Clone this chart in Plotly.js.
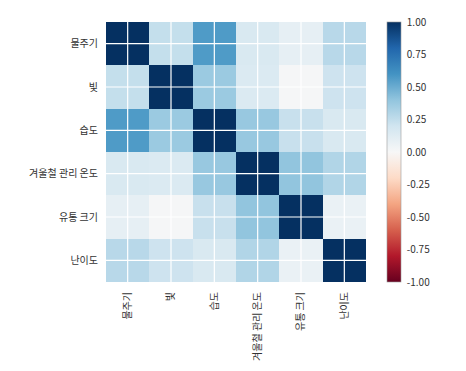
<!DOCTYPE html>
<html>
<head>
<meta charset="utf-8">
<script src="https://cdn.plot.ly/plotly-3.0.1.min.js"></script>
<style>html,body{margin:0;padding:0;background:#fff;}#chart{width:466px;height:371px;}</style>
</head>
<body>
<div id="chart"></div>
<script>
const categories = ['물주기', '빛', '습도', '겨울철 관리 온도', '유통 크기', '난이도'];
const row_물주기 = [1.00, 0.24, 0.57, 0.16, 0.09, 0.28];
const row_빛 = [0.24, 1.00, 0.37, 0.15, 0.01, 0.21];
const row_습도 = [0.57, 0.37, 1.00, 0.38, 0.23, 0.16];
const row_겨울철 = [0.16, 0.15, 0.38, 1.00, 0.40, 0.30];
const row_유통 = [0.09, 0.01, 0.23, 0.40, 1.00, 0.07];
const row_난이도 = [0.28, 0.21, 0.16, 0.30, 0.07, 1.00];
const zValues = [row_물주기, row_빛, row_습도, row_겨울철, row_유통, row_난이도];
const colorbarTicks = [-1, -0.75, -0.5, -0.25, 0, 0.25, 0.5, 0.75, 1];

const rdbu = ['#67001f','#b2182b','#d6604d','#f4a582','#fddbc7','#f7f7f7','#d1e5f0','#92c5de','#4393c3','#2166ac','#053061'];
const colorscale = rdbu.map((c, i) => [i / (rdbu.length - 1), c]);

const font = "'Noto Sans CJK KR', 'Noto Sans', sans-serif";

const shapes = [];
categories.forEach(c => {
  shapes.push({type: 'line', xref: 'x', yref: 'paper', x0: c, x1: c, y0: 0, y1: 1, line: {color: 'white', width: 1.2}, layer: 'above'});
  shapes.push({type: 'line', xref: 'paper', yref: 'y', x0: 0, x1: 1, y0: c, y1: c, line: {color: 'white', width: 1.2}, layer: 'above'});
});

const trace = {
  type: 'heatmap',
  x: categories,
  y: categories,
  z: zValues,
  zmin: -1, zmax: 1,
  colorscale: colorscale,
  showscale: true,
  colorbar: {
    x: 1.081, xanchor: 'left', xpad: 0,
    y: 0.5, yanchor: 'middle', ypad: 0,
    len: 1, lenmode: 'fraction',
    thickness: 14, thicknessmode: 'pixels',
    outlinewidth: 0.6, outlinecolor: '#9a9a9a',
    tickvals: colorbarTicks,
    ticktext: colorbarTicks.map(v => (v < 0 ? '-' : '') + Math.abs(v).toFixed(2)),
    ticks: 'outside', ticklen: 4, tickcolor: 'rgba(0,0,0,0)',
    tickfont: {family: font, size: 10, color: '#333'}
  }
};

const layout = {
  width: 466, height: 371,
  margin: {l: 106, r: 100, t: 22, b: 89},
  paper_bgcolor: 'white', plot_bgcolor: 'white',
  font: {family: font, size: 10, color: '#333'},
  xaxis: {type: 'category', showgrid: false, zeroline: false, showline: false, ticks: 'outside', ticklen: 5, tickcolor: 'rgba(0,0,0,0)', tickangle: -90, tickfont: {family: font, size: 10, color: '#333'}},
  yaxis: {type: 'category', autorange: 'reversed', showgrid: false, zeroline: false, showline: false, ticks: 'outside', ticklen: 5, tickcolor: 'rgba(0,0,0,0)', tickfont: {family: font, size: 10, color: '#333'}},
  shapes: shapes
};

Plotly.newPlot('chart', [trace], layout, {displayModeBar: false, staticPlot: true});
</script>
</body>
</html>
